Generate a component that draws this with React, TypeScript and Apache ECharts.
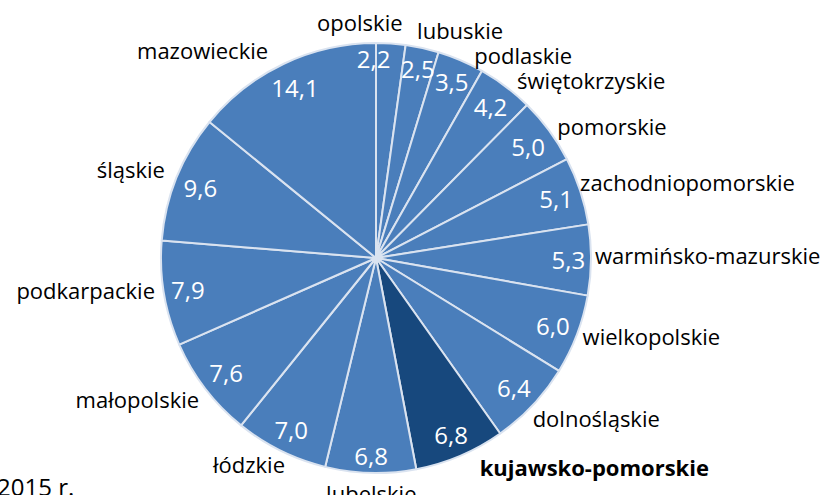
import React, { useEffect, useRef } from "react";
import * as echarts from "echarts";

const regions = [
  "opolskie",
  "lubuskie",
  "podlaskie",
  "świętokrzyskie",
  "pomorskie",
  "zachodniopomorskie",
  "warmińsko-mazurskie",
  "wielkopolskie",
  "dolnośląskie",
  "kujawsko-pomorskie",
  "lubelskie",
  "łódzkie",
  "małopolskie",
  "podkarpackie",
  "śląskie",
  "mazowieckie",
];
const values = [2.2, 2.5, 3.5, 4.2, 5.0, 5.1, 5.3, 6.0, 6.4, 6.8, 6.8, 7.0, 7.6, 7.9, 9.6, 14.1];
const highlighted = "kujawsko-pomorskie";
const footnote = "2015 r.";

const FONT = "'Open Sans', 'Noto Sans', sans-serif";
const BASE = "#4a7ebb";
const DARK = "#17487d";

// label placement tweaks (pixels), Excel-style positioning of the outside names
const NUDGE: [number, number][] = [
  [-79, -18],
  [-11, -14],
  [7, -2],
  [4, -3],
  [0, -2],
  [-9, -8],
  [-5, -5],
  [-3, 0],
  [-8, 10],
  [13, 7],
  [51, 16],
  [11, 10],
  [2, 8],
  [0, -4],
  [-3, -7],
  [-9, -10],
];

export default function App() {
  const ref = useRef<HTMLDivElement>(null);
  useEffect(() => {
    if (!ref.current) return;
    const chart = echarts.init(ref.current, undefined, { renderer: "svg" });
    const fmt = (v: number) => v.toFixed(1).replace(".", ",");
    const center = [376, 258];
    const R = 215;
    const total = values.reduce((a, b) => a + b, 0);
    let acc = 0;
    const mids = values.map((v) => {
      const m = ((acc + v / 2) / total) * 100;
      acc += v;
      return m;
    });
    // "inside end" placement: the value box touches the rim of the pie
    const valueRadius = mids.map((m, i) => {
      const a = (m / 100) * 2 * Math.PI;
      const w = fmt(values[i]).length * 12 - 1;
      const r = R - 5 - (Math.abs(Math.sin(a)) * w) / 2 - Math.abs(Math.cos(a)) * 12;
      return r / R;
    });
    chart.setOption({
      animation: false,
      backgroundColor: "#ffffff",
      polar: { center, radius: R },
      angleAxis: { type: "value", min: 0, max: 100, startAngle: 90, clockwise: true, show: false },
      radiusAxis: { type: "value", min: 0, max: 1, show: false },
      graphic: [
        {
          type: "text",
          x: -3,
          y: 474,
          style: { text: footnote, font: `24px ${FONT}`, fill: "#000", textVerticalAlign: "top" },
        },
      ],
      series: [
        {
          type: "pie",
          center,
          radius: [0, R],
          startAngle: 90,
          clockwise: true,
          avoidLabelOverlap: false,
          itemStyle: { borderColor: "#dae3f0", borderWidth: 2 },
          label: {
            show: true,
            position: "outside",
            formatter: "{b}",
            color: "#000",
            fontSize: 22,
            fontFamily: FONT,
            distanceToLabelLine: 5,
          },
          labelLine: { show: false, length: 4, length2: 0 },
          labelLayout: (p: any) => ({ dx: NUDGE[p.dataIndex][0], dy: NUDGE[p.dataIndex][1] }),
          emphasis: { disabled: true },
          data: regions.map((name, i) => ({
            name,
            value: values[i],
            itemStyle: { color: name === highlighted ? DARK : BASE },
            label: name === highlighted ? { fontWeight: "bold" } : undefined,
          })),
        },
        {
          type: "scatter",
          coordinateSystem: "polar",
          symbolSize: 1,
          silent: true,
          itemStyle: { color: "transparent", opacity: 1 },
          label: {
            show: true,
            position: "inside",
            formatter: (p: any) => fmt(values[p.dataIndex]),
            color: "#ffffff",
            opacity: 1,
            fontSize: 24,
            fontFamily: FONT,
          },
          emphasis: { disabled: true },
          data: mids.map((m, i) =>
            i === 0
              ? { value: [valueRadius[i], m], label: { offset: [-16, -3] } }
              : { value: [valueRadius[i], m] }
          ),
        },
      ],
    });
    return () => chart.dispose();
  }, []);
  return (
    <div
      ref={ref}
      style={{ position: "fixed", left: 0, top: 0, width: 834, height: 495 }}
    />
  );
}
